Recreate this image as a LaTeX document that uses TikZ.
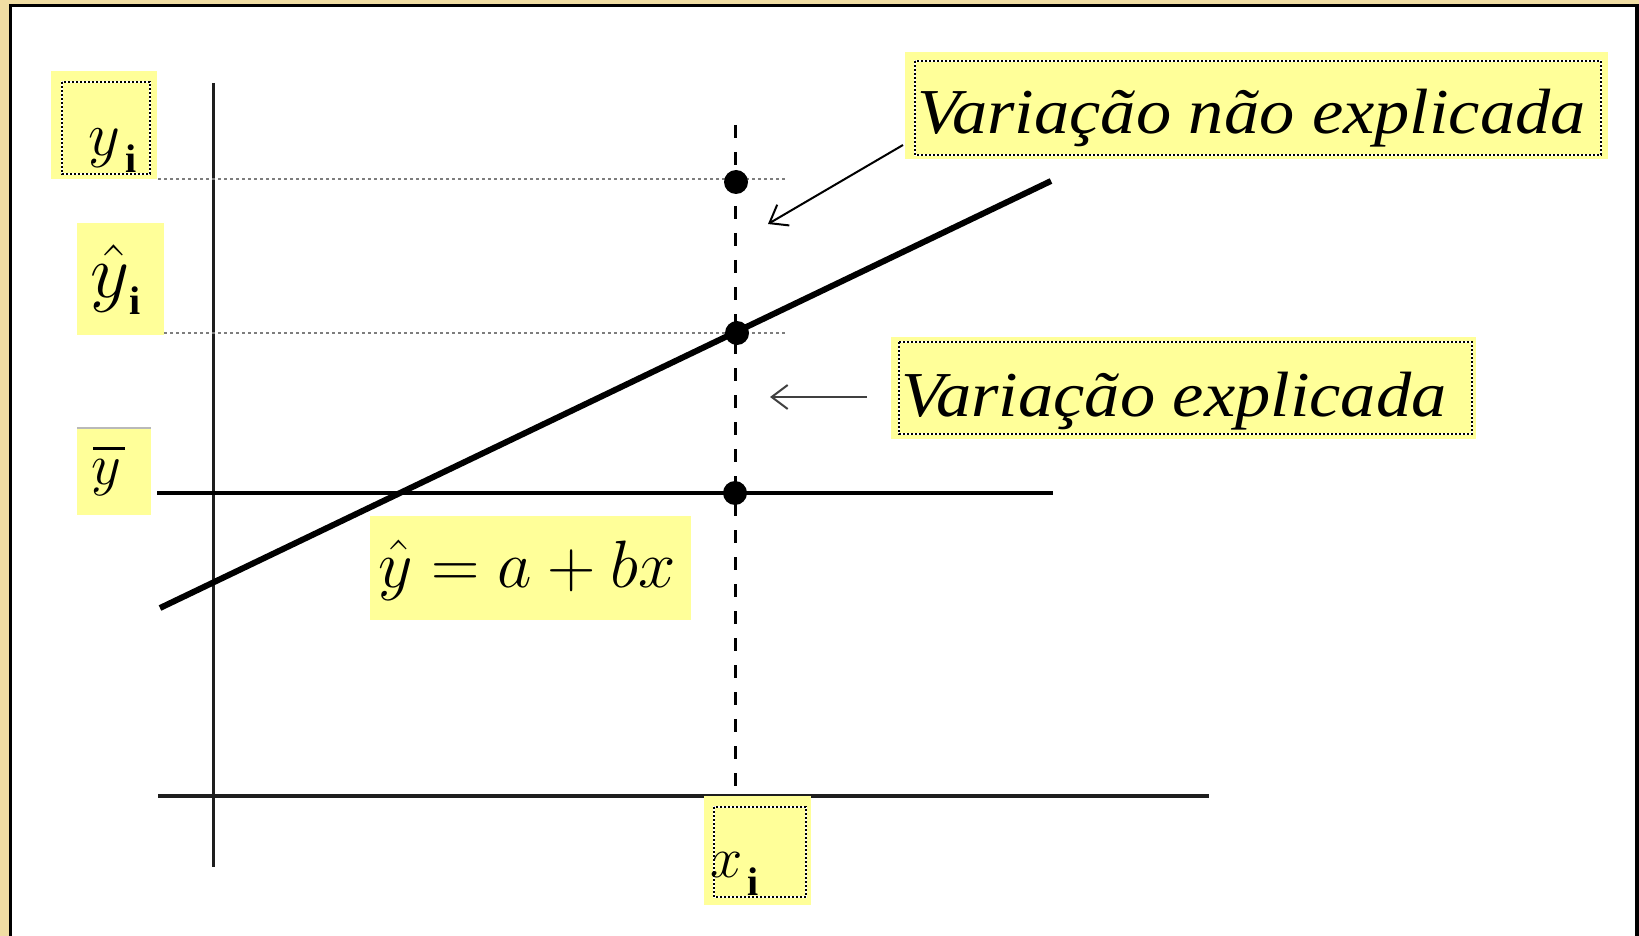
\RequirePackage{fix-cm}
\documentclass[tikz,border=0pt]{standalone}
\usepackage[no-math]{fontspec}
\setmainfont{Liberation Serif}
\usetikzlibrary{arrows.meta}
\definecolor{parch}{RGB}{240,221,163}
\definecolor{hl}{RGB}{255,255,153}
\definecolor{dotgray}{RGB}{125,125,125}
\definecolor{axisgray}{RGB}{30,30,30}
\begin{document}
\begin{tikzpicture}[x=1pt,y=-1pt,
  ybox/.style={fill=hl, draw=none, inner sep=0pt, outer sep=0pt, anchor=north west},
  dotbox/.style={draw=white, line width=2pt, postaction={draw=black, dash pattern=on 2pt off 2pt}},
  txt/.style={inner sep=0pt, outer sep=0pt, anchor=base west},
  subi/.style={txt, font=\fontsize{40pt}{44pt}\selectfont\bfseries},
  guide/.style={draw=dotgray, line width=2pt, dash pattern=on 3pt off 3pt},
  barrow/.style={line width=2pt, -{Straight Barb[length=16pt,width=24pt,line width=2pt]}},
  pt/.style={circle, fill=black, inner sep=0pt, minimum size=24pt}]
% background and frame
\fill[parch] (0,0) rectangle (1639,936);
\useasboundingbox (0,0) rectangle (1639,936);
\filldraw[fill=white, draw=black, line width=3.5pt] (10.5,5.5) rectangle (1637,960);
% key coordinates
\coordinate (axtop) at (213,83);
\coordinate (axbot) at (213,867);
\coordinate (hxl) at (158,796);
\coordinate (hxr) at (1209,796);
\coordinate (meanl) at (157,493);
\coordinate (meanr) at (1053,493);
\coordinate (regl) at (160,608);
\coordinate (regr) at (1051,181);
\coordinate (vtop) at (735,125);
\coordinate (vbot) at (735,791);
\coordinate (g1l) at (158,179);
\coordinate (g1r) at (786,179);
\coordinate (g2l) at (158,333);
\coordinate (g2r) at (786,333);
% lines
\draw[axisgray, line width=3pt] (axtop) -- (axbot);
\draw[axisgray, line width=3.5pt] (hxl) -- (hxr);
\draw[guide] (g1l) -- (g1r);
\draw[guide] (g2l) -- (g2r);
\draw[black, line width=3pt, dash pattern=on 13pt off 14pt] (vtop) -- (vbot);
\draw[black, line width=4.5pt] (meanl) -- (meanr);
\draw[black, line width=6pt] (regl) -- (regr);
% points
\node[pt] (p1) at (736,182) {};
\node[pt] (p2) at (737,333) {};
\node[pt] (p3) at (735,493) {};
% yellow boxes
\node[ybox, minimum width=106pt, minimum height=108pt] (byi) at (51,71) {};
\draw[dotbox] (62,82) rectangle (150,174);
\node[ybox, minimum width=87pt, minimum height=112pt] (byhat) at (77,223) {};
\node[ybox, minimum width=74pt, minimum height=87pt] (bybar) at (77,428) {};
\draw[gray!55, line width=2pt] (bybar.north west) -- (bybar.north east);
\node[ybox, minimum width=703pt, minimum height=107pt] (bnexp) at (905,52) {};
\draw[dotbox] (915,61) rectangle (1601,155);
\node[ybox, minimum width=585pt, minimum height=102pt] (bexp) at (891,337) {};
\draw[dotbox] (899,342) rectangle (1472,434);
\node[ybox, minimum width=321pt, minimum height=104pt] (beq) at (370,516) {};
\node[ybox, minimum width=107pt, minimum height=109pt] (bxi) at (704,796) {};
\draw[dotbox] (714,807) rectangle (806,897);
% texts
\node[txt] (tyi) at (88,156) {\fontsize{62pt}{66pt}\selectfont$y$};
\node[subi] (tyii) at (125,173) {i};
\node[txt] (tyh) at (90,298) {\fontsize{76pt}{80pt}\selectfont$\hat{y}$};
\node[subi] (tyhi) at (129,314) {i};
\node[txt] (tyb) at (91,484) {\fontsize{58pt}{62pt}\selectfont$y$};
\draw[black, line width=3pt] (93,448) -- (125,448);
\node[txt] (teq) at (378,587) {\fontsize{67pt}{72pt}\selectfont$\hat{y}=a+bx$};
\node[txt] (tnexp) at (917,134) {\fontsize{64pt}{70pt}\selectfont\scalebox{1.1}[1]{\itshape Variação não explicada}};
\node[txt] (texp) at (901,416) {\fontsize{64pt}{70pt}\selectfont\scalebox{1.1}[1]{\itshape Variação explicada}};
\node[txt] (txi) at (710,877) {\fontsize{58pt}{62pt}\selectfont$x$};
\node[subi] (txii) at (747,895) {i};
% arrows
\coordinate (a1s) at (903,145);
\coordinate (a1e) at (768,224);
\coordinate (a2s) at (867,397);
\coordinate (a2e) at (770,397);
\draw[barrow] (a1s) -- (a1e);
\draw[barrow, draw=black!75] (a2s) -- (a2e);
\end{tikzpicture}
\end{document}
